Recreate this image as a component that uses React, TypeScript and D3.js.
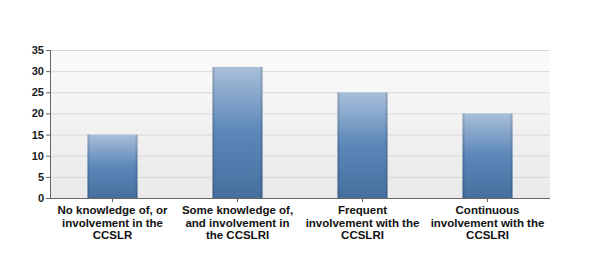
import React from "react";
import * as d3 from "d3";

const categories = [
  ["No knowledge of, or", "involvement in the", "CCSLR"],
  ["Some knowledge of,", "and involvement in", "the CCSLRI"],
  ["Frequent", "involvement with the", "CCSLRI"],
  ["Continuous", "involvement with the", "CCSLRI"],
];
const values = [15, 31, 25, 20];
const yTicks = [0, 5, 10, 15, 20, 25, 30, 35];

export default function App() {
  const W = 600, H = 270;
  const left = 50, right = 550, top = 50, bottom = 198;
  const x = d3.scaleBand<number>().domain(d3.range(values.length)).range([left, right]).paddingInner(0.6).paddingOuter(0.3);
  const band = d3.scaleBand<number>().domain(d3.range(values.length)).range([left, right]);
  const y = d3.scaleLinear().domain([0, 35]).range([bottom, top]);
  const font = "'Liberation Sans', Arial, sans-serif";
  return (
    <svg width={W} height={H} style={{ position: "absolute", left: 0, top: 0 }}>
      <defs>
        <linearGradient id="bg" x1="0" y1="0" x2="0" y2="1">
          <stop offset="0" stopColor="#fbfbfb" />
          <stop offset="1" stopColor="#e9e9e9" />
        </linearGradient>
        <linearGradient id="bar" x1="0" y1="0" x2="0" y2="1">
          <stop offset="0" stopColor="#a9bfd9" />
          <stop offset="0.5" stopColor="#5b87b9" />
          <stop offset="1" stopColor="#466f9e" />
        </linearGradient>
        <linearGradient id="barEdge" x1="0" y1="0" x2="1" y2="0">
          <stop offset="0" stopColor="#000" stopOpacity="0.18" />
          <stop offset="0.06" stopColor="#000" stopOpacity="0" />
          <stop offset="0.94" stopColor="#000" stopOpacity="0" />
          <stop offset="1" stopColor="#000" stopOpacity="0.18" />
        </linearGradient>
      </defs>
      <rect x={0} y={0} width={W} height={H} fill="#fff" />
      <rect x={left} y={top} width={right - left} height={bottom - top} fill="url(#bg)" />
      {yTicks.map((t) => (
        <g key={t}>
          {t > 0 && <line x1={left} x2={right} y1={y(t) + 0.5} y2={y(t) + 0.5} stroke="#d9d9d9" />}
          <line x1={left - 4} x2={left} y1={y(t) + 0.5} y2={y(t) + 0.5} stroke="#666" />
          <text x={left - 6} y={y(t) + 4} textAnchor="end" fontFamily={font} fontWeight="bold" fontSize={11} fill="#1a1a1a">
            {t}
          </text>
        </g>
      ))}
      {values.map((v, i) => (
        <g key={i}>
          <rect x={x(i)} y={y(v)} width={x.bandwidth()} height={bottom - y(v)} fill="url(#bar)" />
          <rect x={x(i)} y={y(v)} width={x.bandwidth()} height={bottom - y(v)} fill="url(#barEdge)" />
        </g>
      ))}
      <line x1={left + 0.5} x2={left + 0.5} y1={top} y2={bottom} stroke="#666" />
      <line x1={left} x2={right} y1={bottom + 0.5} y2={bottom + 0.5} stroke="#666" />
      {categories.map((lines, i) => {
        const cx = (band(i) as number) + band.bandwidth() / 2;
        return (
          <g key={i}>
            <line x1={cx} x2={cx} y1={bottom} y2={bottom + 4} stroke="#666" />
            <text textAnchor="middle" fontFamily={font} fontWeight="bold" fontSize={11.5} fill="#111">
              {lines.map((l, j) => (
                <tspan key={j} x={cx} y={214 + j * 12.6}>{l}</tspan>
              ))}
            </text>
          </g>
        );
      })}
    </svg>
  );
}
